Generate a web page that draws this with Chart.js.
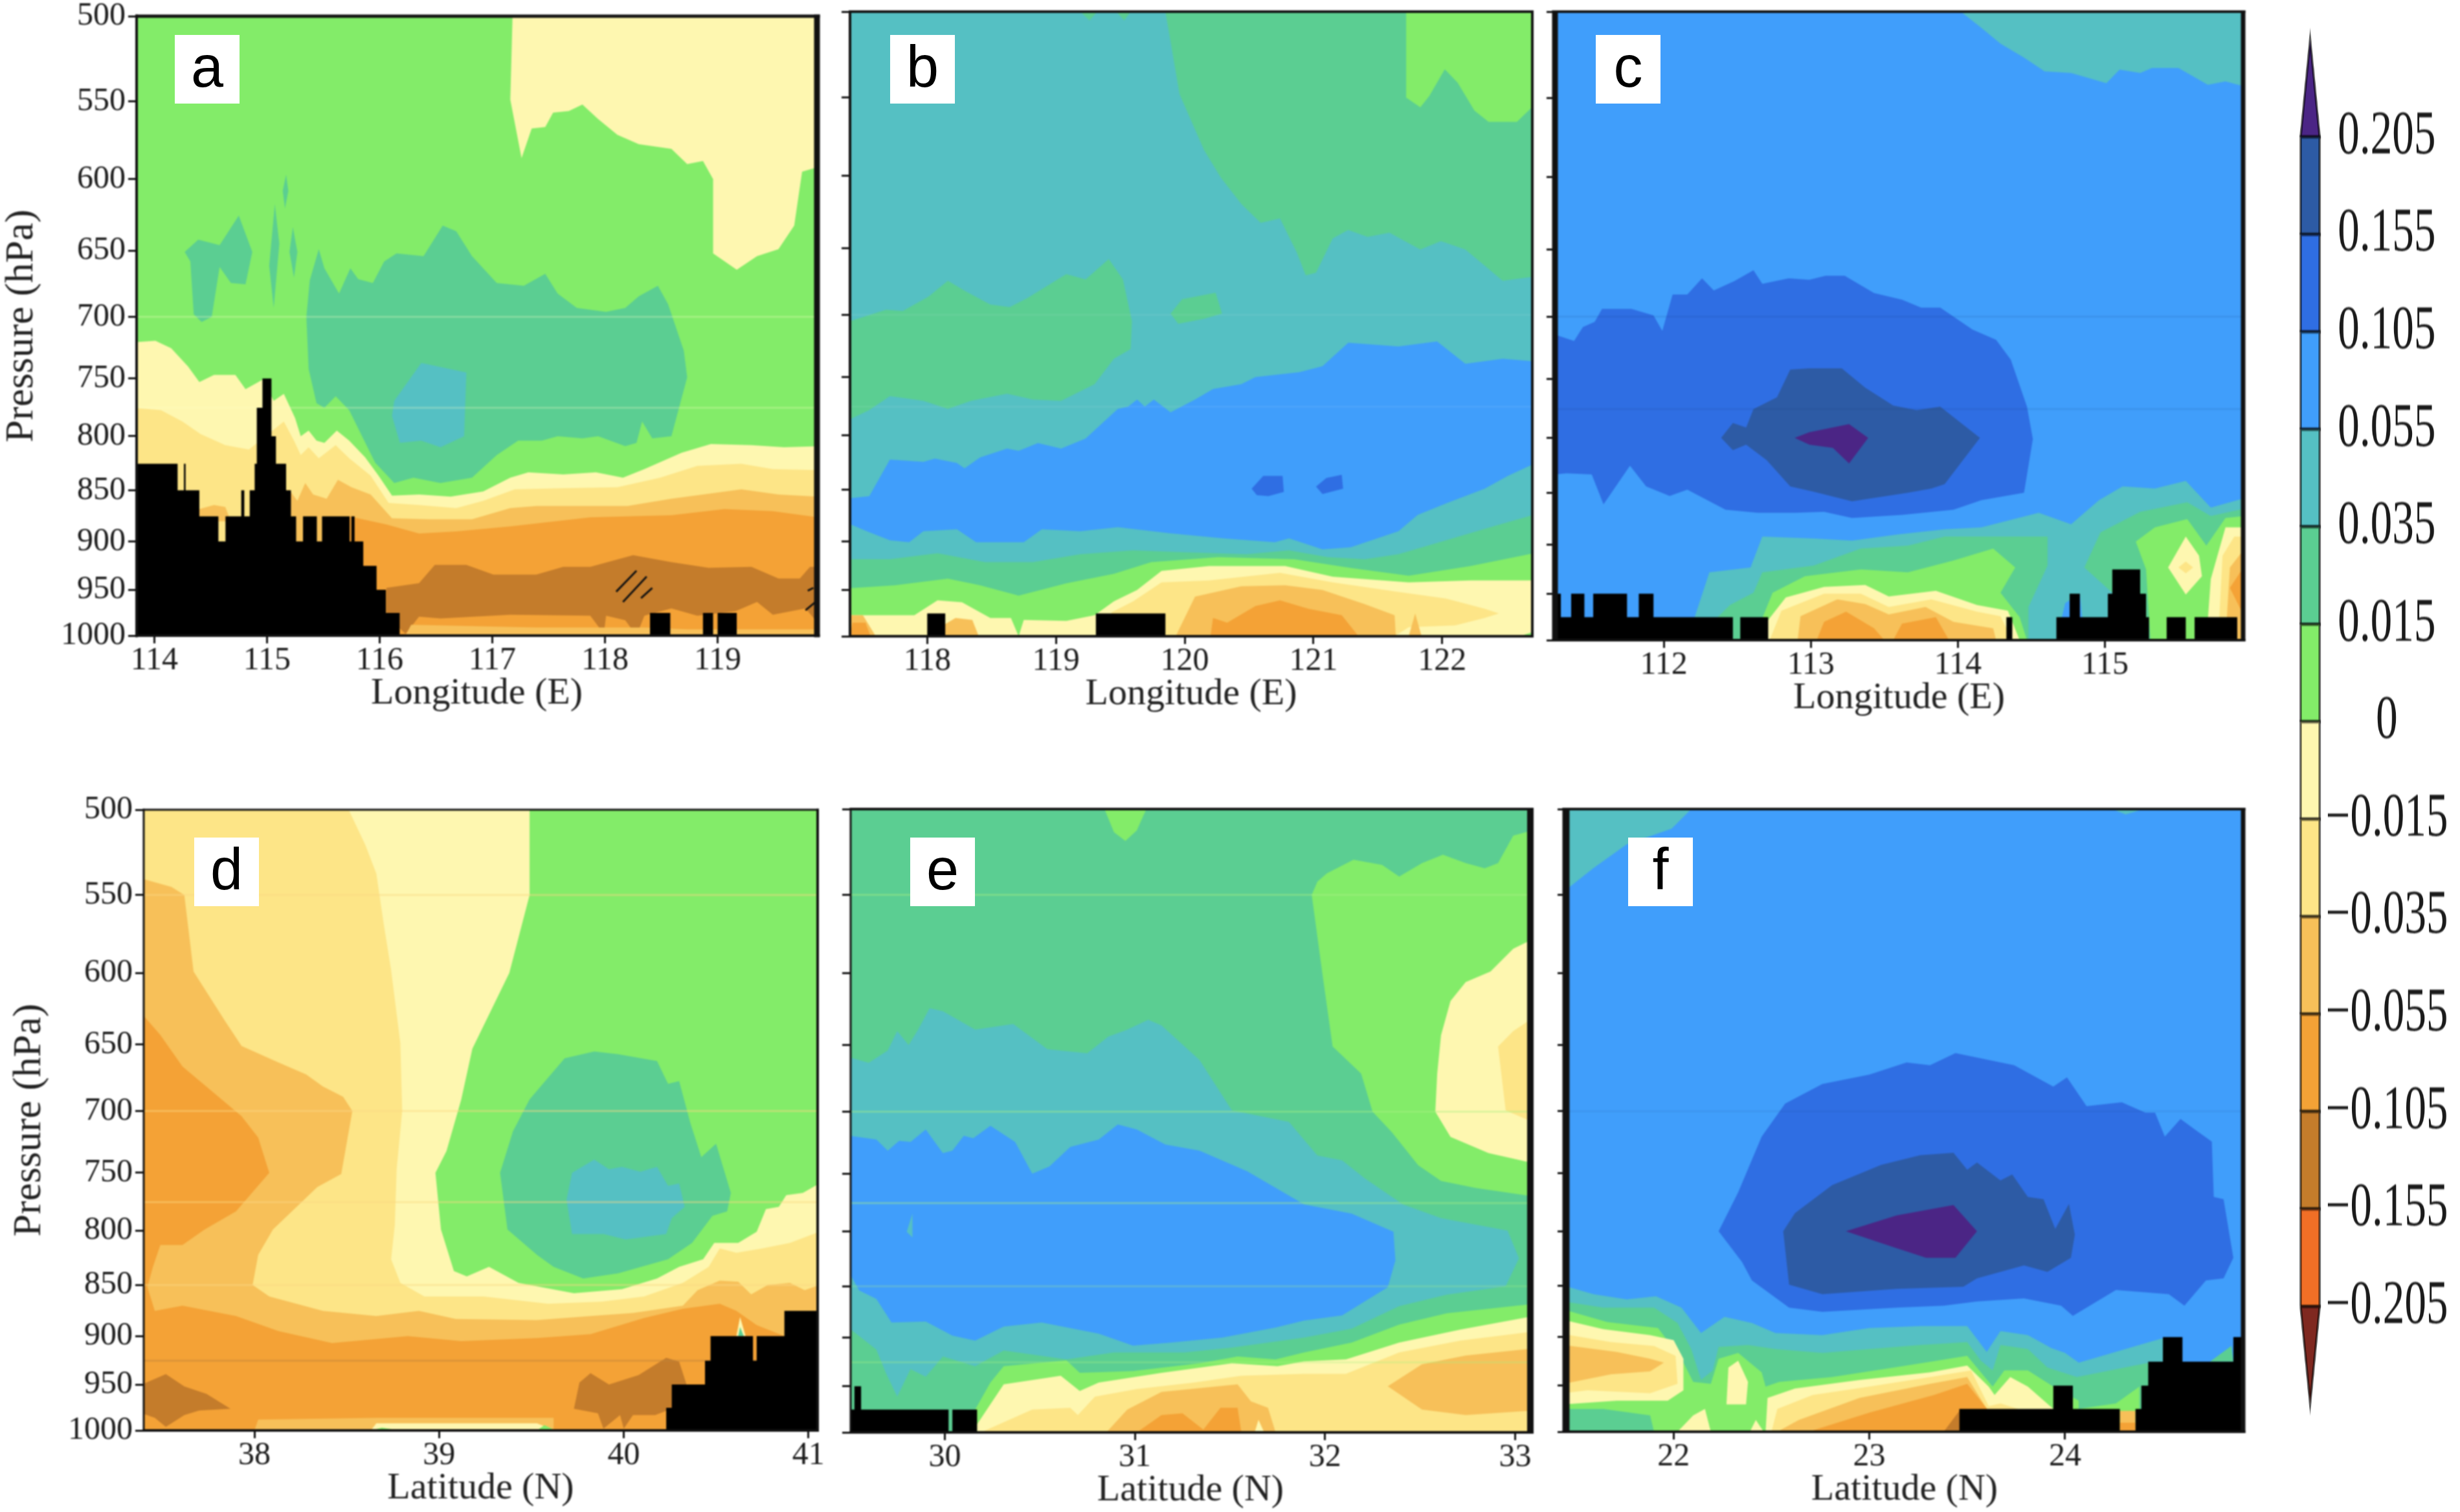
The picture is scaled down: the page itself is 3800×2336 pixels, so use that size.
<!DOCTYPE html>
<html>
<head>
<meta charset="utf-8">
<script src="https://cdn.jsdelivr.net/npm/chart.js@4/dist/chart.umd.js"></script>
<style>
html, body { margin: 0; padding: 0; background: #fff; width: 3800px; height: 2336px; overflow: hidden; }
canvas { position: absolute; filter: blur(0.9px); }
.tag { position: absolute; background: #fff; color: #000; font: 90px "Liberation Sans", sans-serif;
  text-align: center; line-height: 98px; height: 106px; width: 100px; }
</style>
</head>
<body>
<script>
// colours of the shaded intervals
const PURPLE = '#4B2585', DEEP = '#2D5BA5', BLUE = '#2F6EE3', SKY = '#409EFB', TEAL = '#55C0C3',
  SEA = '#5BCE92', GREEN = '#83EC69', PALE = '#FEF7B0', YELLOW = '#FDE587', LORANGE = '#F7C059',
  ORANGE = '#F4A236', BROWN = '#C47C2B', RED = '#F16F26', DARKRED = '#7F2820';

const pressureTicks = [500, 550, 600, 650, 700, 750, 800, 850, 900, 950, 1000];

// colour bar
const cbLabels = ['\u22120.205', '\u22120.155', '\u22120.105', '\u22120.055', '\u22120.035', '\u22120.015', '0',
  '0.015', '0.035', '0.055', '0.105', '0.155', '0.205'];
const cbColors = [DARKRED, RED, BROWN, ORANGE, LORANGE, YELLOW, PALE, GREEN, SEA, TEAL, SKY, BLUE, DEEP, PURPLE];

// ---- panel a, [longitude, hPa]
const a_ticks = [114, 115, 116, 117, 118, 119];
const a_pale_top = [[117.18,500],[117.16,549],[117.26,586],[117.35,567],[117.47,566],[117.54,557],[117.68,556],[117.80,552],[117.94,561],[118.11,571],[118.30,577],[118.59,580],[118.73,590],[118.87,588],[118.96,600],[118.96,652],[119.17,664],[119.35,654],[119.54,649],[119.68,632],[119.75,595],[119.89,592],[119.89,500]];
const a_sea_main = [[115.35,700],[115.38,672],[115.46,649],[115.51,663],[115.64,682],[115.74,663],[115.81,671],[115.94,674],[116.04,658],[116.15,652],[116.39,654],[116.56,632],[116.68,636],[116.82,654],[117.04,674],[117.28,676],[117.47,667],[117.58,682],[117.75,693],[118.01,696],[118.18,693],[118.30,684],[118.47,676],[118.56,690],[118.70,727],[118.73,749],[118.59,800],[118.42,802],[118.33,787],[118.28,806],[118.18,809],[117.94,800],[117.80,802],[117.58,800],[117.44,804],[117.23,804],[117.04,817],[116.82,838],[116.54,843],[116.30,838],[116.13,843],[115.96,824],[115.73,777],[115.61,765],[115.51,775],[115.44,771],[115.37,742]];
const a_sea_small = [[114.27,651],[114.39,642],[114.58,646],[114.75,625],[114.87,651],[114.81,675],[114.68,674],[114.58,662],[114.51,700],[114.42,704],[114.35,698],[114.32,658]];
const a_sliver1 = [[115.07,617],[115.11,645],[115.06,693],[115.02,661]];
const a_sliver2 = [[115.17,597],[115.19,608],[115.16,620],[115.14,608]];
const a_sliver3 = [[115.23,633],[115.27,651],[115.24,670],[115.20,651]];
const a_teal = [[116.13,769],[116.37,737],[116.77,745],[116.75,800],[116.54,810],[116.37,804],[116.18,806],[116.11,782]];
const a_pale_low = [[113.84,720],[114.01,719],[114.15,725],[114.30,740],[114.40,753],[114.53,747],[114.72,747],[114.81,759],[114.96,751],[115.06,769],[115.15,763],[115.25,784],[115.30,800],[115.37,795],[115.44,804],[115.51,806],[115.62,795],[115.73,804],[115.87,819],[115.99,836],[116.11,855],[116.35,854],[116.63,856],[116.92,851],[117.16,838],[117.32,833],[117.63,835],[117.92,833],[118.16,838],[118.35,830],[118.68,815],[118.94,807],[119.30,808],[119.59,810],[119.89,809],[119.89,1000],[113.84,1000]];
const a_yellow = [[113.84,775],[114.06,777],[114.25,787],[114.41,798],[114.63,808],[114.84,812],[115.15,787],[115.24,804],[115.30,817],[115.37,810],[115.46,820],[115.61,808],[115.73,820],[115.92,836],[116.08,862],[116.35,864],[116.68,867],[116.92,860],[117.20,849],[117.63,848],[118.11,847],[118.49,838],[118.82,827],[119.21,825],[119.49,830],[119.89,831],[119.89,1000],[113.84,1000]];
const a_lorange_small = [[114.40,880],[114.40,868],[114.53,864],[114.63,866],[114.68,880]];
const a_lorange = [[115.15,1000],[115.15,850],[115.20,850],[115.27,860],[115.34,843],[115.41,854],[115.53,858],[115.63,840],[115.75,847],[115.92,854],[116.11,877],[116.44,878],[116.82,878],[117.16,867],[117.39,865],[117.77,865],[118.20,865],[118.59,858],[118.87,854],[119.21,849],[119.54,854],[119.89,856],[119.89,1000]];
const a_orange = [[115.70,1000],[115.73,875],[116.06,883],[116.35,892],[116.68,890],[117.16,885],[117.87,876],[118.59,874],[119.06,868],[119.49,870],[119.89,876],[119.89,1000]];
const a_brown = [[116.06,948],[116.35,943],[116.49,924],[116.77,924],[117.01,934],[117.39,934],[117.63,926],[117.87,926],[118.25,914],[118.59,921],[118.92,927],[119.30,926],[119.54,938],[119.73,938],[119.82,926],[119.89,926],[119.89,986],[119.78,970],[119.49,977],[119.35,963],[119.16,973],[118.82,978],[118.59,970],[118.35,978],[118.28,1000],[118.18,983],[118.01,978],[117.99,998],[117.87,978],[117.16,977],[116.54,981],[116.35,979],[116.23,998],[116.06,978]];
const a_strip = [[116.23,1000],[116.28,988],[117.39,991],[118.35,991],[118.73,993],[119.89,993],[119.89,1000]];
const a_hatch1 = [[118.10,952],[118.28,930]];
const a_hatch2 = [[118.16,963],[118.37,936]];
const a_hatch3 = [[118.32,959],[118.42,948]];
const a_hatch4 = [[119.80,951],[119.85,948]];
const a_hatch5 = [[119.78,972],[119.87,963]];
const a_terrain_x = [113.84,114.207,114.263,114.278,114.40,114.569,114.632,114.772,114.799,114.847,114.891,114.91,114.96,115.04,115.08,115.17,115.213,115.259,115.32,115.443,115.489,115.734,115.749,115.778,115.855,115.973,116.056,116.178,118.40,118.58,118.87,118.96,119.0,119.17];
const a_terrain_top = [825,850,825,850,875,900,875,850,875,850,825,775,750,800,825,850,875,900,875,900,875,900,875,900,925,950,975,1000,975,1000,975,1000,975,1000];

// ---- panel b
const b_ticks = [118, 119, 120, 121, 122];
const b_sea_upper = [[119.85,500],[119.96,548],[120.15,583],[120.28,601],[120.44,619],[120.59,632],[120.74,629],[120.87,653],[120.94,670],[121.02,668],[121.15,643],[121.27,637],[121.42,642],[121.59,639],[121.83,651],[121.99,645],[122.18,651],[122.47,674],[122.71,671],[122.71,500]];
const b_sea_tip1 = [[119.19,500],[119.26,505],[119.32,500]];
const b_sea_tip2 = [[119.47,500],[119.53,505],[119.58,500]];
const b_green_top = [[121.72,500],[121.72,550],[121.83,556],[121.90,549],[122.02,533],[122.12,541],[122.25,558],[122.36,565],[122.58,565],[122.71,555],[122.71,500]];
const b_sea_left = [[117.40,705],[117.68,696],[117.81,697],[118.01,686],[118.16,674],[118.30,682],[118.49,692],[118.64,694],[118.78,687],[119.08,669],[119.23,673],[119.41,658],[119.52,673],[119.59,705],[119.58,727],[119.45,735],[119.30,756],[119.04,770],[118.82,769],[118.62,764],[118.34,770],[118.16,777],[117.97,770],[117.71,766],[117.55,778],[117.40,786]];
const b_sea_island = [[119.89,699],[119.98,688],[120.24,683],[120.29,699],[120.15,703],[119.95,707]];
const b_sky = [[117.40,858],[117.55,856],[117.71,822],[117.97,824],[118.06,821],[118.23,825],[118.29,830],[118.41,820],[118.62,812],[118.71,814],[118.86,807],[119.04,812],[119.23,803],[119.48,777],[119.56,775],[119.63,769],[119.69,775],[119.76,769],[119.89,780],[120.08,769],[120.22,760],[120.44,756],[120.55,750],[120.89,746],[121.07,741],[121.27,722],[121.66,725],[121.96,721],[122.18,739],[122.47,735],[122.71,737],[122.71,826],[122.51,837],[122.33,849],[122.03,863],[121.81,874],[121.66,890],[121.29,906],[121.07,908],[120.81,897],[120.70,901],[120.30,897],[119.89,892],[119.48,886],[119.19,890],[118.89,888],[118.75,901],[118.38,901],[118.23,888],[117.97,890],[117.86,901],[117.71,899],[117.53,890],[117.40,883]];
const b_blue1 = [[120.52,849],[120.61,837],[120.76,837],[120.77,852],[120.65,856],[120.56,855]];
const b_blue2 = [[121.02,847],[121.10,839],[121.22,836],[121.23,849],[121.07,854]];
const b_sea_low = [[117.40,918],[117.71,918],[118.08,912],[118.45,921],[118.82,921],[119.19,913],[119.60,909],[120.00,911],[120.48,913],[120.81,909],[121.11,916],[121.40,918],[121.66,913],[122.03,899],[122.40,885],[122.71,874],[122.71,1000],[117.40,1000]];
const b_green = [[117.40,948],[117.75,945],[118.16,938],[118.41,945],[118.71,956],[119.08,943],[119.45,933],[119.74,921],[120.26,916],[120.85,918],[121.29,927],[121.74,935],[122.22,925],[122.71,912],[122.71,1000],[117.40,1000]];
const b_pale = [[117.40,977],[117.90,977],[118.08,961],[118.27,963],[118.49,980],[118.65,980],[118.71,1000],[118.75,982],[119.08,983],[119.30,977],[119.45,962],[119.63,950],[119.82,930],[120.19,925],[120.78,925],[121.15,936],[121.74,942],[122.22,940],[122.71,940],[122.71,995],[122.60,1000],[117.40,1000]];
const b_yellow = [[119.43,974],[119.60,962],[119.82,942],[120.19,940],[120.74,932],[121.15,942],[121.66,952],[122.03,959],[122.33,970],[122.44,975],[122.33,980],[122.10,988],[121.74,990],[121.63,1000],[119.43,1000]];
const b_lorange = [[119.93,1000],[120.08,957],[120.44,946],[120.78,945],[121.07,950],[121.40,965],[121.63,977],[121.64,1000]];
const b_lorange2 = [[121.74,1000],[121.79,975],[121.84,1000]];
const b_lorange3 = [[117.40,1000],[117.40,977],[117.50,977],[117.60,1000]];
const b_lorange4 = [[117.98,1000],[118.22,980],[118.35,982],[118.40,1000]];
const b_orange = [[120.20,1000],[120.22,980],[120.33,985],[120.55,967],[120.74,961],[120.96,970],[121.22,977],[121.35,1000]];
const b_orange2 = [[117.40,1000],[117.42,985],[117.52,985],[117.56,1000]];
const b_terrain_x = [117.40,118.00,118.14,119.31,119.85];
const b_terrain_top = [1000,975,1000,975,1000];

// ---- panel c
const c_ticks = [112, 113, 114, 115];
const c_teal_top = [[114.02,500],[114.16,509],[114.29,518],[114.45,526],[114.59,534],[114.77,535],[115.01,541],[115.10,533],[115.24,535],[115.32,532],[115.50,532],[115.70,542],[115.82,540],[115.95,543],[115.95,500]];
const c_blue = [[111.26,714],[111.39,719],[111.45,708],[111.53,704],[111.58,694],[111.78,694],[111.93,699],[111.99,711],[112.06,683],[112.16,683],[112.26,671],[112.34,680],[112.48,673],[112.61,665],[112.67,675],[112.85,671],[112.99,672],[113.10,669],[113.23,669],[113.43,682],[113.62,687],[113.75,693],[113.88,693],[114.10,710],[114.26,718],[114.36,734],[114.47,773],[114.51,801],[114.45,850],[114.16,857],[113.97,866],[113.62,871],[113.28,874],[113.09,868],[112.89,869],[112.64,869],[112.42,866],[112.16,847],[112.04,853],[111.88,844],[111.77,825],[111.59,861],[111.51,833],[111.34,832],[111.26,833]];
const c_deep = [[112.39,800],[112.47,787],[112.56,791],[112.61,775],[112.77,765],[112.86,742],[112.99,741],[113.21,741],[113.37,757],[113.56,772],[113.72,776],[113.88,773],[114.15,800],[113.91,842],[113.82,846],[113.66,850],[113.28,858],[113.02,849],[112.86,844],[112.70,820],[112.56,806],[112.47,811]];
const c_purple = [[112.89,800],[112.99,795],[113.26,788],[113.39,800],[113.26,823],[113.15,809],[112.99,806]];
const c_teal_low = [[112.21,975],[112.31,928],[112.59,923],[112.67,892],[113.02,894],[113.28,896],[113.59,890],[113.91,885],[114.16,883],[114.55,869],[114.77,880],[114.96,857],[115.12,844],[115.34,846],[115.55,839],[115.72,864],[115.95,855],[115.95,1000],[112.21,1000]];
const c_sky_hole = [[114.67,1000],[114.73,960],[114.83,950],[114.86,1000]];
const c_sea_left = [[112.36,976],[112.45,962],[112.61,949],[112.67,928],[113.02,921],[113.34,904],[113.66,901],[113.91,892],[114.29,892],[114.61,892],[114.61,921],[114.48,964],[114.48,1000],[112.36,1000]];
const c_sea_right = [[114.86,923],[114.97,888],[115.24,868],[115.56,859],[115.72,872],[115.95,865],[115.95,1000],[115.28,1000],[115.05,949]];
const c_green_left = [[112.67,976],[112.74,949],[112.96,932],[113.34,925],[113.66,928],[113.97,916],[114.24,904],[114.39,923],[114.29,949],[114.42,975],[114.47,1000],[112.67,1000]];
const c_green_right = [[115.21,897],[115.34,883],[115.56,875],[115.69,901],[115.82,874],[115.95,872],[115.95,1000],[115.31,1000],[115.28,925]];
const c_pale_arch = [[112.70,980],[112.83,954],[113.09,943],[113.37,941],[113.53,953],[113.85,947],[114.13,962],[114.34,968],[114.42,1000],[112.70,1000]];
const c_yellow_arch = [[112.72,1000],[112.80,968],[113.09,950],[113.34,950],[113.53,964],[113.82,956],[114.13,969],[114.29,974],[114.37,1000]];
const c_lorange_arch = [[112.91,1000],[112.93,974],[113.18,956],[113.37,961],[113.53,972],[113.78,964],[113.97,980],[114.24,987],[114.26,1000]];
const c_orange1 = [[113.04,1000],[113.09,980],[113.24,969],[113.43,987],[113.50,1000]];
const c_orange2 = [[113.56,1000],[113.62,982],[113.85,975],[113.94,1000]];
const c_pale_blob = [[115.43,923],[115.55,892],[115.64,911],[115.66,932],[115.55,951]];
const c_yellow_dot = [[115.50,923],[115.55,917],[115.60,923],[115.55,929]];
const c_pale_edge = [[115.69,1000],[115.72,935],[115.82,883],[115.95,883],[115.95,1000]];
const c_yellow_edge = [[115.77,1000],[115.80,911],[115.88,892],[115.95,892],[115.95,1000]];
const c_lorange_edge = [[115.82,1000],[115.85,923],[115.95,904],[115.95,1000]];
const c_orange_edge = [[115.85,944],[115.95,921],[115.95,975]];
const c_terrain_x = [111.26,111.30,111.37,111.46,111.52,111.75,111.83,111.93,112.47,112.52,112.71,114.33,114.37,114.67,114.76,114.83,115.02,115.05,115.24,115.28,115.30,115.42,115.55,115.61,115.90];
const c_terrain_top = [950,975,950,975,950,975,950,975,1000,975,1000,975,1000,975,950,975,950,925,950,975,1000,975,1000,975,1000];

// ---- panel d, [latitude, hPa]
const d_ticks = [38, 39, 40, 41];
const d_pale = [[39.49,500],[39.49,550],[39.38,600],[39.18,653],[39.12,691],[39.04,732],[38.98,750],[39.01,799],[39.08,837],[39.15,842],[39.27,833],[39.43,848],[39.73,858],[39.99,854],[40.18,844],[40.30,833],[40.43,826],[40.49,811],[40.62,811],[40.72,801],[40.77,781],[40.84,779],[40.88,769],[40.97,767],[41.06,759],[41.06,1000],[37.39,1000],[37.39,500]];
const d_yellow = [[38.51,500],[38.60,520],[38.66,537],[38.70,568],[38.74,598],[38.79,649],[38.80,700],[38.77,747],[38.76,795],[38.74,826],[38.79,848],[38.92,861],[39.24,861],[39.59,868],[39.88,866],[40.11,861],[40.32,848],[40.46,833],[40.52,816],[40.61,820],[40.75,816],[40.90,811],[41.06,801],[41.06,1000],[37.39,1000],[37.39,500]];
const d_lorange = [[37.39,540],[37.55,545],[37.62,550],[37.67,599],[37.84,633],[37.93,651],[38.13,663],[38.28,672],[38.37,681],[38.48,689],[38.53,700],[38.47,751],[38.34,762],[38.10,799],[38.02,822],[37.99,850],[38.08,861],[38.37,875],[38.66,880],[38.89,875],[39.09,883],[39.53,884],[39.82,880],[40.05,877],[40.32,870],[40.40,855],[40.52,846],[40.62,847],[40.69,859],[40.78,850],[40.90,848],[40.98,855],[41.06,850],[41.06,1000],[37.39,1000]];
const d_orange = [[37.39,628],[37.49,643],[37.61,666],[37.78,686],[37.93,704],[38.02,721],[38.08,750],[37.90,783],[37.73,799],[37.61,813],[37.49,813],[37.45,833],[37.42,852],[37.46,875],[37.61,870],[37.90,880],[38.13,895],[38.42,907],[38.83,900],[39.12,905],[39.53,902],[39.82,898],[40.11,882],[40.32,873],[40.52,868],[40.61,875],[40.72,889],[40.87,900],[41.06,900],[41.06,1000],[37.39,1000]];
const d_brown_left = [[37.39,950],[37.52,939],[37.62,952],[37.74,960],[37.87,976],[37.70,978],[37.62,983],[37.52,996],[37.46,986],[37.39,981]];
const d_brown_right = [[39.73,976],[39.76,948],[39.82,938],[39.92,950],[40.08,940],[40.23,922],[40.30,926],[40.34,950],[40.40,952],[40.26,976],[40.17,983],[40.05,983],[40.00,998],[39.98,983],[39.89,998],[39.86,981]];
const d_strip_lo = [[38.00,1000],[38.02,988],[38.66,986],[39.62,986],[39.62,1000]];
const d_strip_pale = [[38.63,1000],[38.66,992],[39.53,992],[39.63,1000]];
const d_strip_green1 = [[38.63,1000],[38.69,997],[38.79,1000]];
const d_strip_green2 = [[39.53,1000],[39.57,994],[39.63,1000]];
const d_spike_pale = [[40.61,900],[40.63,881],[40.66,900]];
const d_spike_green = [[40.62,900],[40.63,891],[40.65,900]];
const d_sea = [[39.33,750],[39.40,716],[39.49,691],[39.68,660],[39.84,655],[39.97,657],[40.18,662],[40.24,679],[40.30,677],[40.36,709],[40.42,737],[40.50,726],[40.58,767],[40.56,783],[40.48,787],[40.37,811],[40.24,826],[39.97,839],[39.78,844],[39.62,833],[39.53,822],[39.37,799]];
const d_teal = [[39.69,773],[39.72,750],[39.84,739],[39.92,747],[39.99,745],[40.09,749],[40.18,745],[40.24,761],[40.30,759],[40.33,779],[40.26,789],[40.23,803],[40.01,808],[39.89,803],[39.72,803]];
const d_terrain_x = [37.40,40.23,40.26,40.44,40.47,40.70,40.72,40.87];
const d_terrain_top = [1000,975,950,925,900,925,900,875];

// ---- panel e
const e_ticks = [30, 31, 32, 33];
const e_green_tip = [[30.84,500],[30.89,513],[30.95,518],[31.01,512],[31.06,500]];
const e_green = [[33.09,512],[32.99,515],[32.91,531],[32.84,534],[32.74,531],[32.62,526],[32.51,531],[32.39,539],[32.30,532],[32.15,529],[32.01,537],[31.96,542],[31.93,550],[31.99,604],[32.04,651],[32.19,671],[32.25,700],[32.35,716],[32.49,743],[32.61,756],[32.79,762],[33.09,769]];
const e_pale = [[33.09,578],[32.99,584],[32.87,599],[32.74,606],[32.66,619],[32.61,643],[32.59,671],[32.58,700],[32.66,720],[32.86,733],[33.09,741]];
const e_yellow_side = [[33.09,631],[32.99,640],[32.91,651],[32.95,699],[33.09,708]];
const e_teal = [[29.50,659],[29.60,663],[29.70,654],[29.75,640],[29.81,650],[29.86,639],[29.92,624],[29.99,626],[30.16,639],[30.36,635],[30.54,653],[30.75,656],[30.86,644],[30.96,639],[31.07,632],[31.14,636],[31.34,661],[31.51,699],[31.81,708],[31.96,735],[32.09,739],[32.21,754],[32.41,776],[32.61,788],[32.96,799],[33.02,824],[32.95,850],[32.64,858],[32.39,869],[32.14,891],[31.89,900],[31.51,910],[31.26,915],[30.89,915],[30.64,922],[30.31,913],[30.16,929],[29.99,919],[29.90,940],[29.82,932],[29.75,961],[29.69,936],[29.64,912],[29.50,891]];
const e_sky = [[29.50,719],[29.64,722],[29.70,731],[29.76,723],[29.82,724],[29.90,714],[29.99,733],[30.04,731],[30.10,719],[30.15,721],[30.24,711],[30.37,724],[30.46,750],[30.55,744],[30.66,728],[30.81,722],[30.91,710],[31.01,714],[31.16,726],[31.34,731],[31.59,748],[31.89,776],[32.14,784],[32.36,800],[32.37,826],[32.33,851],[32.09,878],[31.89,883],[31.74,890],[31.46,900],[31.19,905],[30.99,908],[30.81,896],[30.51,885],[30.31,889],[30.16,903],[30.04,898],[29.90,884],[29.72,885],[29.64,862],[29.55,854],[29.50,838]];
const e_teal_nick = [[29.80,800],[29.83,784],[29.83,805]];
const e_green_low = [[30.16,975],[30.24,946],[30.31,929],[30.64,923],[30.71,936],[30.99,934],[31.34,926],[31.54,919],[31.74,922],[31.89,915],[32.14,905],[32.39,887],[32.64,876],[33.09,867],[33.09,1000],[30.16,1000]];
const e_pale_low = [[30.17,991],[30.31,948],[30.61,939],[30.71,955],[30.81,946],[31.14,936],[31.51,926],[31.75,929],[31.89,924],[32.11,922],[32.39,905],[32.71,892],[33.09,879],[33.09,1000],[30.17,1000]];
const e_yellow = [[30.19,1000],[30.46,975],[30.66,973],[30.70,981],[30.79,961],[31.01,953],[31.31,946],[31.56,939],[31.89,937],[32.11,937],[32.39,915],[32.71,903],[33.09,894],[33.09,1000]];
const e_lorange = [[30.85,1000],[30.96,975],[31.14,956],[31.54,948],[31.61,966],[31.70,973],[31.74,1000]];
const e_pale_nick = [[31.63,1000],[31.65,986],[31.68,1000]];
const e_orange = [[31.01,1000],[31.14,981],[31.25,979],[31.36,997],[31.45,973],[31.54,973],[31.56,1000]];
const e_lorange_side = [[32.33,950],[32.51,927],[32.74,918],[33.09,911],[33.09,976],[32.74,981],[32.51,975]];
const e_terrain_x = [29.50,29.525,29.56,30.02,30.04,30.17];
const e_terrain_top = [975,950,975,1000,975,1000];

// ---- panel f
const f_ticks = [22, 23, 24];
const f_teal_corner = [[21.44,500],[22.09,500],[21.99,511],[21.76,520],[21.59,534],[21.44,548]];
const f_teal_tip = [[24.24,500],[24.31,503],[24.40,500]];
const f_blue = [[22.23,800],[22.33,766],[22.45,720],[22.57,694],[22.76,679],[23.00,672],[23.19,663],[23.31,665],[23.44,656],[23.74,665],[23.94,681],[24.01,674],[24.11,696],[24.29,693],[24.41,701],[24.46,701],[24.51,720],[24.59,706],[24.67,715],[24.75,724],[24.76,770],[24.81,772],[24.86,824],[24.81,843],[24.72,845],[24.61,869],[24.53,858],[24.26,854],[24.04,879],[23.98,869],[23.79,862],[23.55,865],[23.38,869],[23.14,871],[22.76,875],[22.59,871],[22.40,845],[22.35,828]];
const f_deep = [[22.56,800],[22.62,784],[22.81,760],[23.06,743],[23.26,735],[23.43,733],[23.50,747],[23.55,741],[23.67,756],[23.73,751],[23.81,770],[23.89,772],[23.95,798],[24.02,776],[24.05,803],[24.03,824],[23.91,837],[23.79,831],[23.55,843],[23.48,851],[23.14,853],[22.76,858],[22.59,849]];
const f_purple = [[22.88,800],[23.14,786],[23.43,777],[23.55,800],[23.44,824],[23.29,824],[23.12,814]];
const f_teal_low = [[21.44,850],[21.59,858],[21.76,863],[21.91,860],[22.04,871],[22.14,896],[22.26,880],[22.40,886],[22.52,896],[22.76,898],[23.00,891],[23.26,889],[23.50,889],[23.60,915],[23.67,894],[23.81,898],[23.93,911],[24.00,916],[24.07,926],[24.19,919],[24.43,905],[24.52,900],[24.52,1000],[21.44,1000]];
const f_sea_low = [[21.44,865],[21.64,871],[21.90,871],[22.02,886],[22.09,912],[22.14,944],[22.20,934],[22.23,910],[22.38,908],[22.52,912],[22.76,916],[23.00,912],[23.26,908],[23.50,905],[23.57,924],[23.63,934],[23.67,908],[23.81,912],[23.91,931],[24.06,941],[24.43,926],[24.43,1000],[21.44,1000]];
const f_sea_side = [[24.74,925],[24.85,909],[24.86,925]];
const f_green = [[21.44,873],[21.66,885],[21.92,891],[22.04,922],[22.10,946],[22.19,948],[22.23,922],[22.33,916],[22.45,936],[22.47,951],[22.54,946],[22.81,941],[23.19,929],[23.50,919],[23.63,951],[23.69,934],[23.81,934],[23.94,951],[24.07,966],[24.07,1000],[21.44,1000]];
const f_green_side = [[24.07,975],[24.26,969],[24.38,951],[24.38,1000],[24.07,1000]];
const f_sea_corner = [[21.44,982],[21.44,1000],[21.90,1000],[21.88,982],[21.64,975],[21.44,975]];
const f_pale_left = [[21.44,883],[21.64,892],[21.88,898],[22.00,903],[22.05,922],[22.05,955],[21.97,966],[21.71,966],[21.44,970]];
const f_yellow_left = [[21.44,897],[21.68,905],[21.90,909],[22.01,919],[22.02,948],[21.88,958],[21.56,955],[21.44,958]];
const f_lorange_left = [[21.44,908],[21.71,915],[21.88,922],[21.95,926],[21.88,935],[21.68,938],[21.44,948]];
const f_pale_mid = [[22.27,970],[22.28,931],[22.33,924],[22.38,946],[22.37,970]];
const f_pale_foot1 = [[22.02,1000],[22.10,982],[22.16,975],[22.19,1000]];
const f_pale_foot2 = [[22.39,1000],[22.42,987],[22.46,1000]];
const f_pale = [[22.47,1000],[22.48,963],[22.62,953],[22.95,944],[23.31,936],[23.50,929],[23.61,951],[23.64,960],[23.72,941],[23.81,951],[23.94,975],[23.94,1000]];
const f_yellow = [[22.50,1000],[22.53,975],[22.71,960],[23.00,951],[23.31,941],[23.52,934],[23.61,972],[23.67,969],[23.76,975],[23.81,1000]];
const f_lorange = [[22.53,1000],[22.64,987],[22.95,963],[23.31,948],[23.50,941],[23.60,975],[23.60,1000]];
const f_orange = [[22.69,1000],[23.00,979],[23.33,960],[23.50,948],[23.61,977],[23.61,1000]];
const f_brown = [[23.38,1000],[23.46,977],[23.46,1000]];
const f_gap_lo = [[24.28,1000],[24.28,977],[24.36,977],[24.36,1000]];
const f_gap_orange = [[24.28,1000],[24.28,990],[24.36,990],[24.36,1000]];
const f_terrain_x = [21.45,23.46,23.94,24.04,24.28,24.36,24.39,24.425,24.50,24.60,24.86];
const f_terrain_top = [1000,975,950,975,1000,975,950,925,900,925,900];

// turns column tops into a closed staircase
function staircase(xs, tops, xEnd) {
  const pts = [[xs[0], 1000]];
  xs.forEach((x, i) => {
    const next = i + 1 < xs.length ? xs[i + 1] : xEnd;
    pts.push([x, tops[i]], [next, tops[i]]);
  });
  pts.push([xEnd, 1000]);
  return pts;
}
function wholeFrame(xMin, xMax) {
  return [[xMin, 500], [xMax, 500], [xMax, 1000], [xMin, 1000]];
}

const panels = [
  { tag: 'a', tagBox: [270, 54], xMin: 113.843, xMax: 119.882, ticks: a_ticks, title: 'Longitude (E)',
    box: { l: 211, r: 1262, t: 25, b: 982 }, yw: 211, pad: 3, labels: true, edge: { l: 4, t: 5, r: 9, b: 4 },
    back: GREEN,
    layers: [[PALE, a_pale_top], [SEA, a_sea_main], [SEA, a_sea_small], [SEA, a_sliver1], [SEA, a_sliver2], [SEA, a_sliver3], [TEAL, a_teal],
      [PALE, a_pale_low], [YELLOW, a_yellow], [LORANGE, a_lorange_small], [LORANGE, a_lorange], [ORANGE, a_orange], [BROWN, a_brown], [LORANGE, a_strip]],
    seams: [[700, 'rgba(255,255,200,.25)'], [775, 'rgba(255,255,200,.25)']],
    terrainX: a_terrain_x, terrainTop: a_terrain_top, hatches: [a_hatch1, a_hatch2, a_hatch3, a_hatch4, a_hatch5] },
  { tag: 'b', tagBox: [1375, 54], xMin: 117.40, xMax: 122.70, ticks: b_ticks, title: 'Longitude (E)',
    box: { l: 1313, r: 2367, t: 18, b: 983 }, yw: 60, pad: 0, labels: false, edge: { l: 4, t: 4, r: 4, b: 4 },
    back: TEAL,
    layers: [[SEA, b_sea_upper], [SEA, b_sea_tip1], [SEA, b_sea_tip2], [GREEN, b_green_top], [SEA, b_sea_left], [SEA, b_sea_island], [SKY, b_sky], [BLUE, b_blue1], [BLUE, b_blue2],
      [SEA, b_sea_low], [GREEN, b_green], [PALE, b_pale], [YELLOW, b_yellow], [LORANGE, b_lorange], [LORANGE, b_lorange2], [LORANGE, b_lorange3], [LORANGE, b_lorange4], [ORANGE, b_orange], [ORANGE, b_orange2]],
    seams: [[700, 'rgba(255,255,255,.06)'], [775, 'rgba(255,255,255,.06)']],
    terrainX: b_terrain_x, terrainTop: b_terrain_top, hatches: [] },
  { tag: 'c', tagBox: [2465, 54], xMin: 111.26, xMax: 115.94, ticks: c_ticks, title: 'Longitude (E)',
    box: { l: 2402, r: 3465, t: 18, b: 989 }, yw: 60, pad: 0, labels: false, edge: { l: 9, t: 4, r: 7, b: 4 },
    back: SKY,
    layers: [[TEAL, c_teal_top], [BLUE, c_blue], [DEEP, c_deep], [PURPLE, c_purple], [TEAL, c_teal_low], [SKY, c_sky_hole], [SEA, c_sea_left], [SEA, c_sea_right],
      [GREEN, c_green_left], [GREEN, c_green_right], [PALE, c_pale_arch], [YELLOW, c_yellow_arch], [LORANGE, c_lorange_arch], [ORANGE, c_orange1], [ORANGE, c_orange2],
      [PALE, c_pale_blob], [YELLOW, c_yellow_dot], [PALE, c_pale_edge], [YELLOW, c_yellow_edge], [LORANGE, c_lorange_edge], [ORANGE, c_orange_edge]],
    seams: [[700, 'rgba(20,60,120,.1)'], [775, 'rgba(20,60,120,.1)']],
    terrainX: c_terrain_x, terrainTop: c_terrain_top, hatches: [] },
  { tag: 'd', tagBox: [300, 1294], xMin: 37.40, xMax: 41.05, ticks: d_ticks, title: 'Latitude (N)',
    box: { l: 222, r: 1263, t: 1251, b: 2210 }, yw: 222, pad: 15, labels: true, edge: { l: 3, t: 3, r: 4, b: 4 },
    back: GREEN,
    layers: [[PALE, d_pale], [YELLOW, d_yellow], [LORANGE, d_lorange], [ORANGE, d_orange], [BROWN, d_brown_left], [BROWN, d_brown_right], [LORANGE, d_strip_lo], [PALE, d_strip_pale],
      [GREEN, d_strip_green1], [GREEN, d_strip_green2], [PALE, d_spike_pale], [SEA, d_spike_green], [SEA, d_sea], [TEAL, d_teal]],
    seams: [[550, 'rgba(250,215,130,.45)'], [700, 'rgba(250,215,130,.45)'], [775, 'rgba(250,215,130,.45)'], [850, 'rgba(250,215,130,.45)'], [925, 'rgba(190,130,60,.45)']],
    terrainX: d_terrain_x, terrainTop: d_terrain_top, hatches: [] },
  { tag: 'e', tagBox: [1406, 1294], xMin: 29.505, xMax: 33.08, ticks: e_ticks, title: 'Latitude (N)',
    box: { l: 1314, r: 2364, t: 1250, b: 2213 }, yw: 60, pad: 0, labels: false, edge: { l: 3, t: 4, r: 10, b: 4 },
    back: SEA,
    layers: [[GREEN, e_green_tip], [GREEN, e_green], [PALE, e_pale], [YELLOW, e_yellow_side], [TEAL, e_teal], [SKY, e_sky], [TEAL, e_teal_nick], [GREEN, e_green_low], [PALE, e_pale_low],
      [YELLOW, e_yellow], [LORANGE, e_lorange], [PALE, e_pale_nick], [ORANGE, e_orange], [LORANGE, e_lorange_side]],
    seams: [[550, 'rgba(170,240,130,.4)'], [700, 'rgba(170,240,130,.4)'], [775, 'rgba(170,240,130,.4)'], [850, 'rgba(170,240,130,.25)'], [925, 'rgba(170,240,130,.3)']],
    terrainX: e_terrain_x, terrainTop: e_terrain_top, hatches: [] },
  { tag: 'f', tagBox: [2515, 1294], xMin: 21.45, xMax: 24.91, ticks: f_ticks, title: 'Latitude (N)',
    box: { l: 2419, r: 3465, t: 1250, b: 2212 }, yw: 60, pad: 0, labels: false, edge: { l: 11, t: 4, r: 7, b: 4 },
    back: SKY,
    layers: [[TEAL, f_teal_corner], [TEAL, f_teal_tip], [BLUE, f_blue], [DEEP, f_deep], [PURPLE, f_purple], [TEAL, f_teal_low], [SEA, f_sea_low], [SEA, f_sea_side], [GREEN, f_green], [GREEN, f_green_side],
      [SEA, f_sea_corner], [PALE, f_pale_left], [YELLOW, f_yellow_left], [LORANGE, f_lorange_left], [PALE, f_pale_mid], [PALE, f_pale_foot1], [PALE, f_pale_foot2], [PALE, f_pale], [YELLOW, f_yellow],
      [LORANGE, f_lorange], [ORANGE, f_orange], [BROWN, f_brown], [LORANGE, f_gap_lo], [ORANGE, f_gap_orange]],
    seams: [[700, 'rgba(20,60,120,.08)']],
    terrainX: f_terrain_x, terrainTop: f_terrain_top, hatches: [] }
];

// frame of a plot, each side with its own weight
const framePlugin = {
  id: 'frame',
  afterDatasetsDraw(chart, args, opts) {
    const { left, right, top, bottom } = chart.chartArea, c = chart.ctx, e = opts.edge;
    c.save();
    c.fillStyle = '#111';
    c.fillRect(left - e.l / 2, top - e.t / 2, e.l, bottom - top + e.t);
    c.fillRect(right - e.r / 2, top - e.t / 2, e.r, bottom - top + e.t);
    c.fillRect(left - e.l / 2, top - e.t / 2, right - left + (e.l + e.r) / 2, e.t);
    c.fillRect(left - e.l / 2, bottom - e.b / 2, right - left + (e.l + e.r) / 2, e.b);
    c.restore();
  }
};

function addCanvas(left, top, width, height) {
  const cv = document.createElement('canvas');
  cv.width = width;
  cv.height = height;
  cv.style.left = left + 'px';
  cv.style.top = top + 'px';
  cv.style.width = width + 'px';
  cv.style.height = height + 'px';
  document.body.appendChild(cv);
  return cv;
}

function polygon(points, color) {
  return { data: points.concat([points[0]]), showLine: true, fill: 'shape', backgroundColor: color,
    borderWidth: 0, pointRadius: 0, tension: 0 };
}
function stroke(points, color, width) {
  return { data: points, showLine: true, fill: false, borderColor: color, borderWidth: width, pointRadius: 0, tension: 0 };
}

const TOP_PAD = 40, RIGHT_PAD = 50, X_AXIS_H = 119;

panels.forEach(p => {
  const { l, r, t, b } = p.box;
  const cv = addCanvas(l - p.yw, t - TOP_PAD, p.yw + (r - l) + RIGHT_PAD, TOP_PAD + (b - t) + X_AXIS_H);
  const sets = [polygon(wholeFrame(p.xMin, p.xMax), p.back)];
  p.layers.forEach(([color, pts]) => sets.push(polygon(pts, color)));
  p.seams.forEach(([lev, color]) => sets.push(stroke([[p.xMin, lev], [p.xMax, lev]], color, 3)));
  sets.push(polygon(staircase(p.terrainX, p.terrainTop, p.xMax), '#000'));
  p.hatches.forEach(h => sets.push(stroke(h, '#111', 3)));

  new Chart(cv, {
    type: 'scatter',
    // the first dataset is painted last, so reverse to keep painter's order
    data: { datasets: sets.reverse() },
    plugins: [framePlugin],
    options: {
      responsive: false,
      animation: false,
      devicePixelRatio: 1,
      events: [],
      layout: { padding: { top: TOP_PAD, right: RIGHT_PAD } },
      plugins: { legend: { display: false }, tooltip: { enabled: false }, frame: { edge: p.edge } },
      scales: {
        x: {
          type: 'linear', min: p.xMin, max: p.xMax,
          afterBuildTicks: ax => { ax.ticks = p.ticks.map(v => ({ value: v })); },
          afterFit: ax => { ax.height = X_AXIS_H; },
          border: { display: false },
          grid: { drawOnChartArea: false, drawTicks: true, tickLength: 12, color: '#111', lineWidth: 3 },
          ticks: { autoSkip: false, maxRotation: 0, padding: 2, color: '#1a1a1a',
            font: { family: '"Liberation Serif", serif', size: 50, lineHeight: 1 }, callback: v => String(v) },
          title: { display: true, text: p.title, color: '#222', padding: 0,
            font: { family: '"Liberation Serif", serif', size: 58, lineHeight: 1 } }
        },
        y: {
          type: 'logarithmic', reverse: true, min: 500, max: 1000,
          afterBuildTicks: ax => { ax.ticks = pressureTicks.map(v => ({ value: v })); },
          afterFit: ax => { ax.width = p.yw; },
          border: { display: false },
          grid: { drawOnChartArea: false, drawTicks: true, tickLength: 13, color: '#111', lineWidth: 3 },
          ticks: { display: p.labels, autoSkip: false, padding: 4, color: '#1a1a1a',
            font: { family: '"Liberation Serif", serif', size: 50, lineHeight: 1 }, callback: v => String(v) },
          title: { display: p.labels, text: 'Pressure (hPa)', color: '#222', padding: p.pad,
            font: { family: '"Liberation Serif", serif', size: 62, lineHeight: 1 } }
        }
      }
    }
  });

  const tag = document.createElement('div');
  tag.className = 'tag';
  tag.textContent = p.tag;
  tag.style.left = p.tagBox[0] + 'px';
  tag.style.top = p.tagBox[1] + 'px';
  document.body.appendChild(tag);
});

// colour bar, one slot per interval; the canvas is squeezed to get the tall narrow numerals
const CB_SQUEEZE = 0.7, CB_LEFT = 3530;
const cbCanvas = addCanvas(CB_LEFT, 0, Math.round((3800 - CB_LEFT) / CB_SQUEEZE), 2336);
cbCanvas.style.transformOrigin = '0 0';
cbCanvas.style.transform = 'scaleX(' + CB_SQUEEZE + ')';
const cbLast = cbColors.length - 1;
const cbSets = cbColors.map((color, i) => {
  let pts;
  if (i === 0) pts = [[0, 1], [1, 1], [0.5, 0]];
  else if (i === cbLast) pts = [[0, i], [1, i], [0.5, i + 1]];
  else pts = [[0, i], [1, i], [1, i + 1], [0, i + 1]];
  return Object.assign(polygon(pts, color), { borderWidth: 5, borderColor: 'rgba(0,0,0,.6)', clip: false });
});
new Chart(cbCanvas, {
  type: 'scatter',
  data: { datasets: cbSets },
  options: {
    responsive: false,
    animation: false,
    devicePixelRatio: 1,
    events: [],
    layout: { padding: { top: 48, bottom: 167, left: 34 } },
    plugins: { legend: { display: false }, tooltip: { enabled: false } },
    scales: {
      x: { type: 'linear', min: 0, max: 1, display: false },
      y: {
        type: 'linear', position: 'right', min: 0, max: cbColors.length,
        afterBuildTicks: ax => { ax.ticks = cbLabels.map((s, i) => ({ value: i + 1 })); },
        afterFit: ax => { ax.width = Math.round((3800 - CB_LEFT) / CB_SQUEEZE) - 76; },
        border: { display: false },
        grid: { display: false, drawTicks: false },
        ticks: { autoSkip: false, padding: 13, crossAlign: 'center', color: '#1a1a1a',
          font: { family: '"Liberation Serif", serif', size: 96, lineHeight: 1 },
          callback: v => cbLabels[v - 1] }
      }
    }
  }
});
</script>
</body>
</html>
